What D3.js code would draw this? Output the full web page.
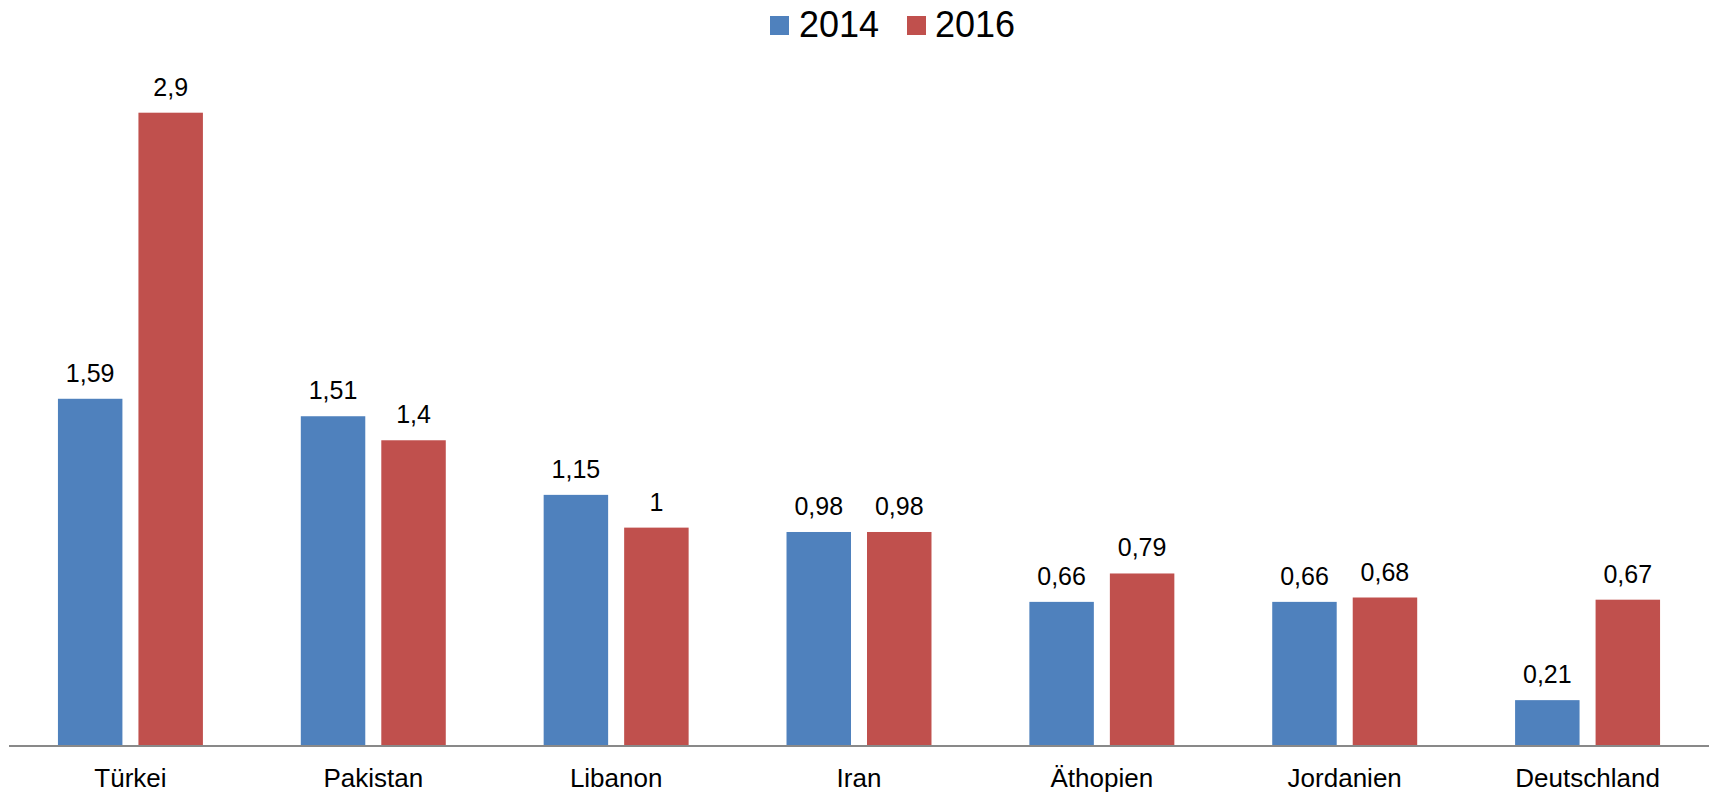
<!DOCTYPE html>
<html>
<head>
<meta charset="utf-8">
<script src="https://cdn.jsdelivr.net/npm/d3@7/dist/d3.min.js"></script>
<style>
  html, body { margin: 0; padding: 0; background: #fff; }
  svg { display: block; }
  text { font-family: "Liberation Sans", Arial, sans-serif; fill: #000; }
</style>
</head>
<body>
<svg id="chart" width="1709" height="792"></svg>
<script>
const categories = ["Türkei", "Pakistan", "Libanon", "Iran", "Äthopien", "Jordanien", "Deutschland"];
const seriesNames = ["2014", "2016"];
const values2014 = [1.59, 1.51, 1.15, 0.98, 0.66, 0.66, 0.21];
const values2016 = [2.9, 1.4, 1, 0.98, 0.79, 0.68, 0.67];
const seriesColors = ["#4F81BD", "#C0504D"];

const W = 1709, H = 792;
const left = 9, right = 1709, baseline = 746;
const svg = d3.select("#chart");

const allValues = [values2014, values2016];
const y = d3.scaleLinear().domain([0, 2.9]).range([baseline, 112.7]);
const x0 = d3.scaleBand().domain(categories).range([left, right]).padding(0);
const x1 = d3.scaleBand().domain(seriesNames).range([0, x0.bandwidth()])
  .paddingInner(0.199).paddingOuter(0.608);

const fmt = v => String(v).replace(".", ",");

const groups = svg.append("g").selectAll("g")
  .data(categories)
  .join("g")
  .attr("transform", d => `translate(${x0(d)},0)`);

groups.each(function(cat, i) {
  const g = d3.select(this);
  seriesNames.forEach((s, si) => {
    const v = allValues[si][i];
    g.append("rect")
      .attr("x", x1(s))
      .attr("y", y(v))
      .attr("width", x1.bandwidth())
      .attr("height", baseline - y(v))
      .attr("fill", seriesColors[si]);
    g.append("text")
      .attr("x", x1(s) + x1.bandwidth() / 2)
      .attr("y", y(v) - 17)
      .attr("text-anchor", "middle")
      .attr("font-size", 25)
      .text(fmt(v));
  });
});

// x axis
const xAxis = d3.axisBottom(x0).tickSize(0).tickPadding(0);
const axisG = svg.append("g").attr("transform", `translate(0,${baseline})`).call(xAxis);
axisG.select(".domain").attr("stroke", "#898989").attr("stroke-width", 2).attr("d", `M${left},0H${right}`);
axisG.selectAll(".tick text")
  .attr("font-size", 26)
  .attr("font-family", "Liberation Sans, Arial, sans-serif")
  .attr("fill", "#000")
  .attr("dy", 0)
  .attr("y", 41);

// legend
const legendItems = [
  { name: seriesNames[0], color: seriesColors[0], sx: 770, tx: 799 },
  { name: seriesNames[1], color: seriesColors[1], sx: 907, tx: 935 }
];
const lg = svg.append("g");
legendItems.forEach(it => {
  lg.append("rect").attr("x", it.sx).attr("y", 16).attr("width", 19).attr("height", 19).attr("fill", it.color);
  lg.append("text").attr("x", it.tx).attr("y", 36.5).attr("font-size", 36).text(it.name);
});
</script>
</body>
</html>
